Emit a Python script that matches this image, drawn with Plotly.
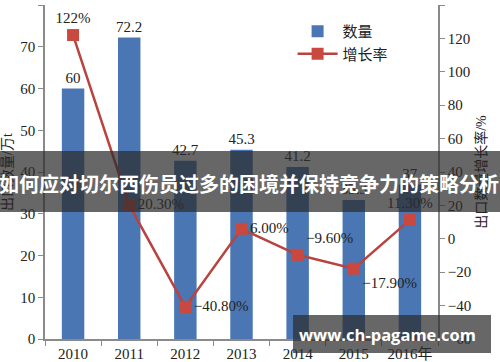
import plotly.graph_objects as go

years = ["2010", "2011", "2012", "2013", "2014", "2015", "2016年"]
quantity = [60, 72.2, 42.7, 45.3, 41.2, 33.3, 37]
growth = [122, 20.3, -40.8, 6.0, -9.6, -17.9, 11.3]
growth_labels = ["122%", "20.30%", "\u221240.80%", "6.00%", "\u22129.60%", "\u221217.90%", "11.30%"]
qty_labels = ["60", "72.2", "42.7", "45.3", "41.2", "33.3", "37"]

serif = "Liberation Serif, Times New Roman, Noto Sans CJK SC, serif"
axis_col = "#8a8a8a"
txt_col = "#222222"

fig = go.Figure()
fig.add_trace(go.Bar(
    x=years, y=quantity, name="数量", width=0.4,
    marker=dict(color="#4a77b4", line=dict(width=0)),
    text=qty_labels, textposition="outside", cliponaxis=False,
    constraintext="none",
    textfont=dict(family=serif, size=15, color=txt_col),
    yaxis="y",
))
fig.add_trace(go.Scatter(
    x=years, y=growth, name="增长率", mode="lines+markers+text",
    line=dict(color="#b8433f", width=2.5),
    marker=dict(symbol="square", size=12, color="#c9483f"),
    text=growth_labels,
    textposition=["top center", "middle right", "middle right", "middle right",
                  "top right", "bottom right", "top center"],
    textfont=dict(family=serif, size=15, color=txt_col),
    cliponaxis=False,
    yaxis="y2",
))

fig.update_layout(
    width=500, height=362,
    margin=dict(l=45, r=62, t=5, b=23, autoexpand=False),
    paper_bgcolor="white", plot_bgcolor="white",
    font=dict(family=serif, size=15, color=txt_col),
    xaxis=dict(
        type="category", showline=True, linecolor=axis_col, linewidth=1.5,
        ticks="outside", tickson="boundaries", ticklen=5, tickcolor=axis_col,
        tickfont=dict(family=serif, size=15, color=txt_col), showgrid=False,
        automargin=False,
    ),
    yaxis=dict(
        range=[0, 80], dtick=10, showline=True, linecolor=axis_col, linewidth=1.5,
        ticks="outside", ticklen=5, tickcolor=axis_col, showgrid=False, zeroline=False,
        tickfont=dict(family=serif, size=15, color=txt_col), automargin=False,
        title=dict(text="出口数量/万t", font=dict(family=serif, size=14, color=txt_col), standoff=6),
    ),
    yaxis2=dict(
        range=[-60, 140], dtick=20, overlaying="y", side="right",
        showline=True, linecolor=axis_col, linewidth=1.5, automargin=False,
        ticks="outside", ticklen=5, tickcolor=axis_col, showgrid=False, zeroline=False,
        tickfont=dict(family=serif, size=15, color=txt_col),
        title=dict(text="出口数量增长率/%", font=dict(family=serif, size=14, color=txt_col), standoff=6),
    ),
    legend=dict(
        x=0.63, y=0.97, xanchor="left", yanchor="top", bgcolor="rgba(0,0,0,0)",
        font=dict(family=serif, size=15, color=txt_col), tracegroupgap=0,
        itemwidth=40,
    ),
    showlegend=True,
)

fig.add_shape(type="rect", xref="paper", yref="paper", layer="above",
              x0=-45 / 393, x1=(500 - 45) / 393, y0=(339 - 212) / 334, y1=(339 - 151) / 334,
              fillcolor="rgba(45,45,45,0.72)", line=dict(width=0))
fig.add_annotation(xref="paper", yref="paper", x=(249 - 45) / 393, y=(339 - 183) / 334,
                   xanchor="center", yanchor="middle",
                   text="<b>如何应对切尔西伤员过多的困境并保持竞争力的策略分析</b>",
                   showarrow=False, font=dict(family="Noto Sans CJK SC", size=20, color="white"))
fig.add_shape(type="rect", xref="paper", yref="paper", layer="above",
              x0=(293 - 45) / 393, x1=(491 - 45) / 393, y0=(339 - 353) / 334, y1=(339 - 315) / 334,
              fillcolor="rgba(45,45,45,0.72)", line=dict(width=0))
fig.add_annotation(xref="paper", yref="paper", x=(387 - 45) / 393, y=(339 - 334) / 334,
                   xanchor="center", yanchor="middle",
                   text="<b>www.ch-pagame.com</b>",
                   showarrow=False, font=dict(family="Open Sans", size=16.5, color="white"))

fig.write_html("out.html", config={"displayModeBar": False})

with open("out.html", "r", encoding="utf-8") as f:
    html = f.read()
html = html.replace("<head>", "<head><style>html,body{margin:0;padding:0;overflow:hidden;}</style>", 1)
with open("out.html", "w", encoding="utf-8") as f:
    f.write(html)
